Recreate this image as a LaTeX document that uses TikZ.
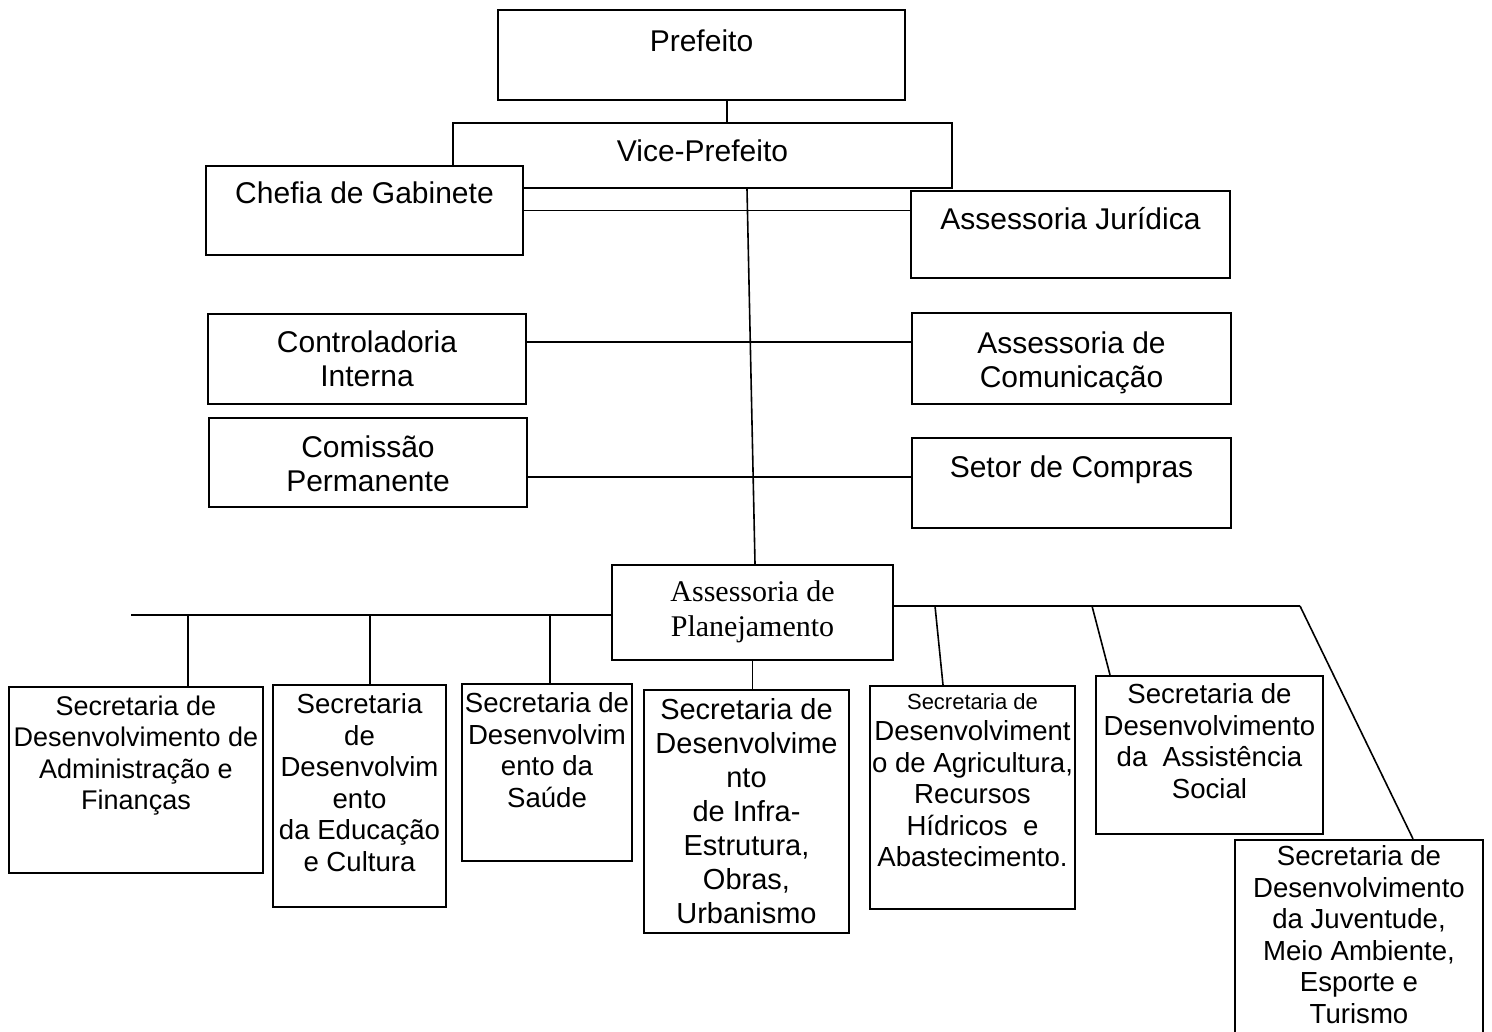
\documentclass[tikz,border=0pt]{standalone}
\usepackage{fontspec}
\usetikzlibrary{positioning,fit}
\newfontfamily\orgsans{Liberation Sans}
\newfontfamily\orgserif{Liberation Serif}

\begin{document}
\begin{tikzpicture}[
  x=0.5pt, y=-0.5pt,
  unit/.style={draw=black, line width=1.1pt, fill=white, inner sep=0pt},
  lbl/.style={font=\orgsans\fontsize{15}{17}\selectfont, align=center, inner sep=0pt},
  sec/.style={font=\orgsans\fontsize{13.8}{15.75}\selectfont, align=center, inner sep=0pt},
  link/.style={draw=black, line width=0.8pt},
]
  \clip (0,0) rectangle (1492,1032);
  \fill[white] (0,0) rectangle (1492,1032);

  %% ---- Prefeito e Vice ----
  \node[unit, fit={(498,10) (905,100)}]  (pref) {};
  \node[lbl, below=10pt of pref.north]   (pref-t) {Prefeito};
  \node[unit, fit={(453,123) (952,188)}] (vice) {};
  \node[lbl, below=8.5pt of vice.north]  (vice-t) {Vice-Prefeito};

  %% ---- Assessorias (esquerda / direita) ----
  \node[unit, fit={(206,166) (523,255)}]   (chefia) {};
  \node[lbl, below=8pt of chefia.north]    (chefia-t) {Chefia de Gabinete};
  \node[unit, fit={(911,191) (1230,278)}]  (jur) {};
  \node[lbl, below=8.5pt of jur.north]     (jur-t) {Assessoria Jurídica};
  \node[unit, fit={(208,314) (526,404)}]   (contr) {};
  \node[lbl, below=8.5pt of contr.north]   (contr-t) {Controladoria\\Interna};
  \node[unit, fit={(912,313) (1231,404)}]  (comun) {};
  \node[lbl, below=9.5pt of comun.north]   (comun-t) {Assessoria de\\Comunicação};
  \node[unit, fit={(209,418) (527,507)}]   (comis) {};
  \node[lbl, below=9pt of comis.north]     (comis-t) {Comissão\\Permanente};
  \node[unit, fit={(912,438) (1231,528)}]  (compr) {};
  \node[lbl, below=9pt of compr.north]     (compr-t) {Setor de Compras};

  \node[unit, fit={(612,565) (893,660)}]   (plan) {};
  \node[lbl, below=8pt of plan.north, font=\orgserif\fontsize{15}{17.5}\selectfont]
    (plan-t) {Assessoria de\\Planejamento};

  %% ---- Secretarias ----
  \node[unit, fit={(9,687) (263,873)}]     (adm) {};
  \node[sec, below=4.75pt of adm.north, font=\orgsans\fontsize{13.5}{15.75}\selectfont]
    (adm-t) {Secretaria de\\Desenvolvimento de\\Administração e\\Finanças};
  \node[unit, fit={(273,685) (446,907)}]   (edu) {};
  \node[sec, below=4.75pt of edu.north]    (edu-t)
    {Secretaria\\de\\Desenvolvim\\ento\\da Educação\\e Cultura};
  \node[unit, fit={(462,684) (632,861)}]   (sau) {};
  \node[sec, below=4.75pt of sau.north]    (sau-t)
    {Secretaria de\\Desenvolvim\\ento da\\Saúde};
  \node[unit, fit={(644,690) (849,933)}]   (infra) {};
  \node[sec, below=4.75pt of infra.north, font=\orgsans\fontsize{14.5}{17}\selectfont] (infra-t)
    {Secretaria de\\Desenvolvime\\nto\\de Infra-\\Estrutura,\\Obras,\\Urbanismo};
  \node[unit, fit={(870,686) (1075,909)}]  (agri) {};
  \node[sec, below=4pt of agri.north]      (agri-t)
    {{\fontsize{11}{13}\selectfont Secretaria de}\\Desenvolviment\\o de Agricultura,\\Recursos\\Hídricos~~e\\Abastecimento.};
  \node[unit, fit={(1096,676) (1323,834)}] (assis) {};
  \node[sec, below=4.25pt of assis.north]  (assis-t)
    {Secretaria de\\Desenvolvimento\\da~~Assistência\\Social};
  \node[unit, fit={(1235,840) (1483,1045)}] (juve) {};
  \node[sec, below=3.25pt of juve.north]   (juve-t)
    {Secretaria de\\Desenvolvimento\\da Juventude,\\Meio Ambiente,\\Esporte e\\Turismo};

  %% ---- Ligacoes ----
  \coordinate (tp) at (727,0);
  \coordinate (trA) at (747,0);
  \coordinate (trB) at (755,0);
  \coordinate (r2) at (0,342);
  \coordinate (r3) at (0,477);
  \draw[link] (pref.south -| tp) -- (vice.north -| tp);
  \draw[link] (vice.south -| trA) -- (plan.north -| trB);
  \draw[link] (chefia.east) -- (chefia.east -| jur.west);
  \draw[link] (contr.east |- r2) -- (comun.west |- r2);
  \draw[link] (comis.east |- r3) -- (compr.west |- r3);

  %% ---- Barramento das secretarias ----
  \coordinate (busL) at (131,615);
  \coordinate (busR) at (1300,606);
  \draw[link] (busL) -- (busL -| plan.west);
  \draw[link] (busR -| plan.east) -- (busR);
  \foreach \n/\x in {adm/188, edu/370, sau/550}{
    \draw[link] (\x,615) -- (\x,0 |- \n.north);
  }
  \draw[link] (plan.south) -- (plan.south |- infra.north);
  \draw[link] (935,606) -- (943,0 |- agri.north);
  \draw[link] (1092,606) -- (1110,0 |- assis.north);
  \draw[link] (busR) -- (1413,0 |- juve.north);

\end{tikzpicture}
\end{document}
